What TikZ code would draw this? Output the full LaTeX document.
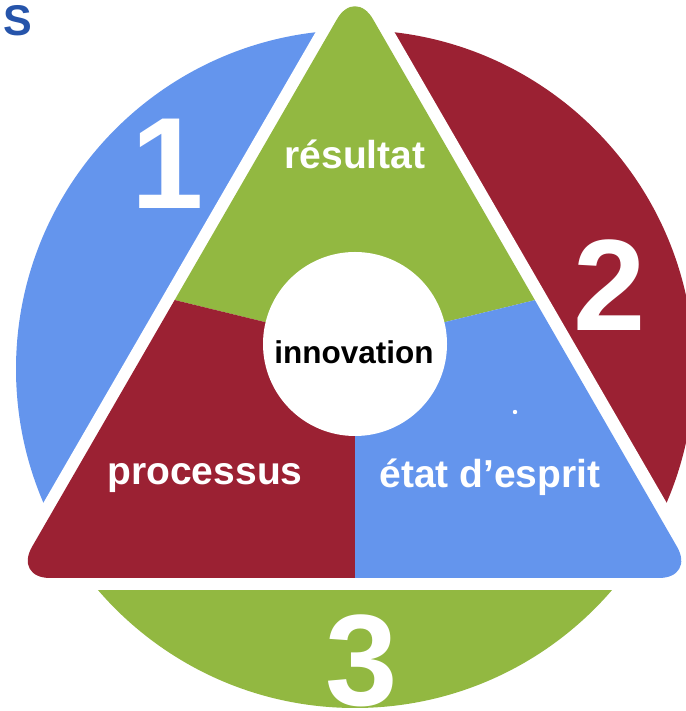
\documentclass[tikz,border=0pt]{standalone}
\usepackage{fontspec}
\setmainfont{Liberation Sans}
\usepackage{xcolor}

\definecolor{azul}{RGB}{100,149,237}
\definecolor{rojo}{RGB}{155,33,51}
\definecolor{verde}{RGB}{146,184,65}
\definecolor{azulS}{RGB}{38,84,170}

\begin{document}
\begin{tikzpicture}[x=1pt,y=1pt,
    etiqueta/.style={text=white,font=\bfseries\fontsize{39}{39}\selectfont},
    numero/.style={text=white,font=\bfseries\fontsize{130}{130}\selectfont}]

    \useasboundingbox (0,0) rectangle (685,711);

    % segmentos del circulo
    \begin{scope}
        \clip (355,342) circle (339);
        \fill[azul] (-668,-1047) -- (696,1313) -- (-1000,1313) -- (-1000,-1047) -- cycle;
        \fill[rojo] (1377,-1047) -- (14,1313) -- (1700,1313) -- (1700,-1047) -- cycle;
        \fill[verde] (-1000,-1000) rectangle (1700,133);
    \end{scope}

    % borde blanco del triangulo
    \fill[white, rounded corners=50] (-7,121) -- (355,747) -- (717,121) -- cycle;

    % sectores del triangulo
    \begin{scope}
        \clip[rounded corners=36] (14,133) -- (355,723) -- (695,133) -- cycle;
        \fill[verde] (355,367) -- (174.5,411) -- (0,800) -- (710,800) -- (535.5,411) -- cycle;
        \fill[rojo] (355,367) -- (174.5,411) -- (-100,0) -- (355,0) -- cycle;
        \fill[azul] (355,367) -- (535.5,411) -- (810,0) -- (355,0) -- cycle;
    \end{scope}

    % centro
    \node[circle, fill=white, inner sep=0pt, minimum size=184pt,
          font=\bfseries\fontsize{31.5}{31.5}\selectfont] (innov) at (355,367) {};
    \node[font=\bfseries\fontsize{31.5}{31.5}\selectfont] (txtinnov) at (354,359) {innovation};
    \fill[white] (515,299) circle (2.2);

    %leyendas
    \node[etiqueta] (resultat) at (355,557) {résultat};
    \node[etiqueta] (processus) at (205,233) {processus};
    \node[etiqueta] (etat) at (490,234) {état d’esprit};

    % numeros
    \node[numero] (uno) at (168,547) {1};
    \node[numero] (dos) at (610,426) {2};
    \node[numero] (tres) at (362,50) {3};

    \node[text=azulS, font=\bfseries\fontsize{43}{43}\selectfont] (sigla) at (17.5,690) {S};

\end{tikzpicture}
\end{document}
